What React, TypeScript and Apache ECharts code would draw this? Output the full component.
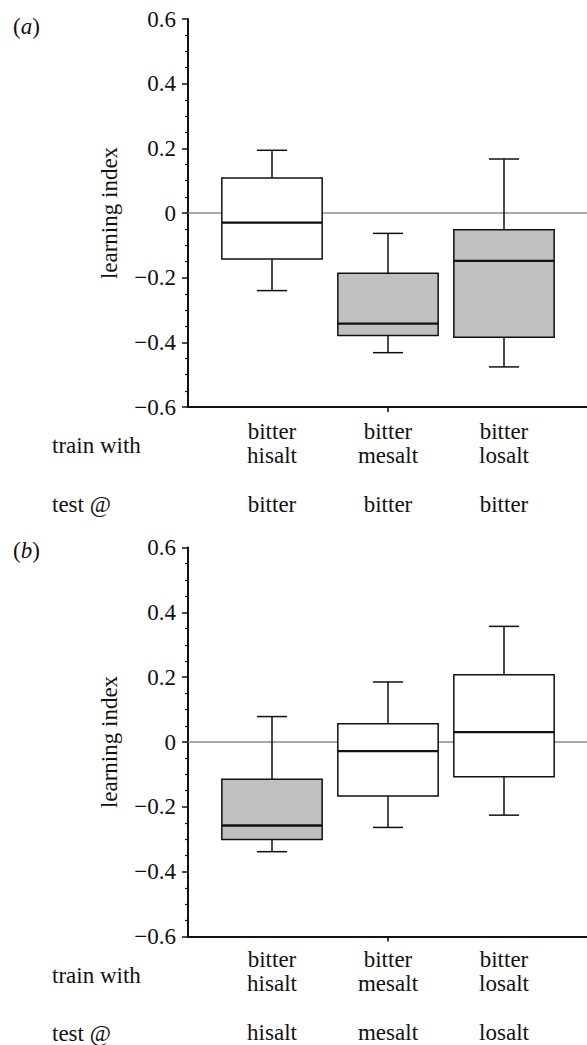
import React, { useEffect, useRef } from "react";
import * as echarts from "echarts";

const categories = ["hisalt", "mesalt", "losalt"];
const trainTop = ["bitter", "bitter", "bitter"];
const trainBottom = ["hisalt", "mesalt", "losalt"];
const testA = ["bitter", "bitter", "bitter"];
const testB = ["hisalt", "mesalt", "losalt"];

// [min, Q1, median, Q3, max]
const boxA = [
  [-0.24, -0.142, -0.03, 0.108, 0.194],
  [-0.432, -0.379, -0.342, -0.186, -0.063],
  [-0.476, -0.384, -0.148, -0.052, 0.167],
];
const boxB = [
  [-0.341, -0.303, -0.26, -0.117, 0.077],
  [-0.266, -0.169, -0.03, 0.055, 0.184],
  [-0.228, -0.109, 0.029, 0.206, 0.356],
];
const shadedA = [false, true, true];
const shadedB = [true, false, false];

const yTicks = { min: -0.6, max: 0.6, interval: 0.2 };
// reference line at zero across the whole frame (frame x runs 0..1)
const zeroLine = [
  [0, 0],
  [1, 0],
];
const xFrameTicks = [0.5];

const FONT = "Liberation Serif";
const INK = "#111111";

const fmtY = (v: number) => {
  if (Math.abs(v) < 1e-9) return "0";
  return v < 0 ? "\u2212" + Math.abs(v).toFixed(1) : v.toFixed(1);
};

const renderBox = (params: any, api: any) => {
  const x = api.value(0);
  const band = api.size([1, 0])[0];
  const bw = band * 0.865;
  const cw = band * 0.26;
  const pMin = api.coord([x, api.value(1)]);
  const pQ1 = api.coord([x, api.value(2)]);
  const pMed = api.coord([x, api.value(3)]);
  const pQ3 = api.coord([x, api.value(4)]);
  const pMax = api.coord([x, api.value(5)]);
  const cx = pMed[0];
  const fill = api.visual("color");
  const ls = { stroke: INK, lineWidth: 1.5 };
  return {
    type: "group",
    children: [
      { type: "line", shape: { x1: cx, y1: pQ3[1], x2: cx, y2: pMax[1] }, style: ls },
      { type: "line", shape: { x1: cx - cw / 2, y1: pMax[1], x2: cx + cw / 2, y2: pMax[1] }, style: ls },
      { type: "line", shape: { x1: cx, y1: pQ1[1], x2: cx, y2: pMin[1] }, style: ls },
      { type: "line", shape: { x1: cx - cw / 2, y1: pMin[1], x2: cx + cw / 2, y2: pMin[1] }, style: ls },
      {
        type: "rect",
        shape: { x: cx - bw / 2, y: pQ3[1], width: bw, height: pQ1[1] - pQ3[1] },
        style: { fill, stroke: INK, lineWidth: 1.5 },
      },
      {
        type: "line",
        shape: { x1: cx - bw / 2, y1: pMed[1], x2: cx + bw / 2, y2: pMed[1] },
        style: { stroke: INK, lineWidth: 2.3 },
      },
    ],
  };
};

function panelAxes(top: number, height: number, tests: string[]) {
  const grids = [
    { left: 188, width: 399, top, height },
    { left: 214, width: 348, top, height },
  ];
  const xAxes = [
    {
      type: "value",
      min: 0,
      max: 1,
      axisLine: { show: true, onZero: false, lineStyle: { color: INK, width: 2 } },
      axisTick: {
        show: true,
        inside: false,
        customValues: xFrameTicks,
        length: 5,
        lineStyle: { color: INK, width: 1.6 },
      },
      axisLabel: { show: false },
      splitLine: { show: false },
    },
    {
      type: "category",
      data: categories,
      position: "bottom",
      axisLine: { show: false, onZero: false },
      axisTick: { show: false },
      axisLabel: {
        interval: 0,
        margin: 12,
        fontSize: 23,
        lineHeight: 24.4,
        fontFamily: FONT,
        color: INK,
        formatter: (_v: string, i: number) =>
          `${trainTop[i]}\n${trainBottom[i]}\n\n${tests[i]}`,
      },
      splitLine: { show: false },
    },
  ];
  const yAxes = [
    {
      type: "value",
      min: yTicks.min,
      max: yTicks.max,
      interval: yTicks.interval,
      name: "learning index",
      nameLocation: "middle",
      nameGap: 67,
      nameTextStyle: { fontSize: 23, fontFamily: FONT, color: INK },
      axisLine: { show: true, onZero: false, lineStyle: { color: INK, width: 2 } },
      axisTick: { show: true, length: 6, lineStyle: { color: INK, width: 1.5 } },
      minorTick: { show: true, splitNumber: 4, length: 3, lineStyle: { color: INK, width: 1.2 } },
      axisLabel: { margin: 12, fontSize: 23, fontFamily: FONT, color: INK, formatter: fmtY },
      splitLine: { show: false },
    },
    {
      type: "value",
      min: yTicks.min,
      max: yTicks.max,
      show: false,
      splitLine: { show: false },
    },
  ];
  return { grids, xAxes, yAxes };
}

function panelSeries(offset: number, boxes: number[][], shaded: boolean[]) {
  return [
    {
      type: "line",
      xAxisIndex: offset,
      yAxisIndex: offset,
      data: zeroLine,
      z: 1,
      silent: true,
      showSymbol: false,
      symbol: "none",
      lineStyle: { color: "#8a8a8a", width: 1.3 },
    },
    {
      type: "custom",
      xAxisIndex: offset + 1,
      yAxisIndex: offset + 1,
      z: 3,
      renderItem: renderBox,
      encode: { x: 0, y: [1, 2, 3, 4, 5] },
      data: boxes.map((b, i) => ({
        value: [i, ...b],
        itemStyle: { color: shaded[i] ? "#c0c0c0" : "#ffffff" },
      })),
    },
  ];
}

export default function App() {
  const ref = useRef<HTMLDivElement>(null);
  useEffect(() => {
    if (!ref.current) return;
    const chart = echarts.init(ref.current, undefined, { renderer: "svg" });
    const a = panelAxes(19, 388, testA);
    const b = panelAxes(547.5, 389, testB);
    const textStyle = (text: string, x: number, y: number) => ({
      type: "text",
      x,
      y,
      style: {
        text,
        fontSize: 23,
        fontFamily: FONT,
        fill: INK,
        verticalAlign: "middle",
        align: "left",
        rich: { i: { fontStyle: "italic", fontSize: 23, fontFamily: FONT, fill: INK } },
      },
    });
    chart.setOption({
      animation: false,
      backgroundColor: "#ffffff",
      textStyle: { fontFamily: FONT },
      grid: [...a.grids, ...b.grids],
      xAxis: [...a.xAxes, ...b.xAxes].map((ax, i) => ({ ...ax, gridIndex: i })),
      yAxis: [...a.yAxes, ...b.yAxes].map((ax, i) => ({ ...ax, gridIndex: i })),
      series: [...panelSeries(0, boxA, shadedA), ...panelSeries(2, boxB, shadedB)],
      graphic: [
        textStyle("({i|a})", 13, 26),
        textStyle("({i|b})", 13, 550),
        textStyle("train with", 52, 445),
        textStyle("test @", 52, 504),
        textStyle("train with", 52, 975),
        textStyle("test @", 52, 1033),
      ],
    });
    return () => chart.dispose();
  }, []);
  return (
    <div
      ref={ref}
      style={{ position: "absolute", left: 0, top: 0, width: 587, height: 1045 }}
    />
  );
}
